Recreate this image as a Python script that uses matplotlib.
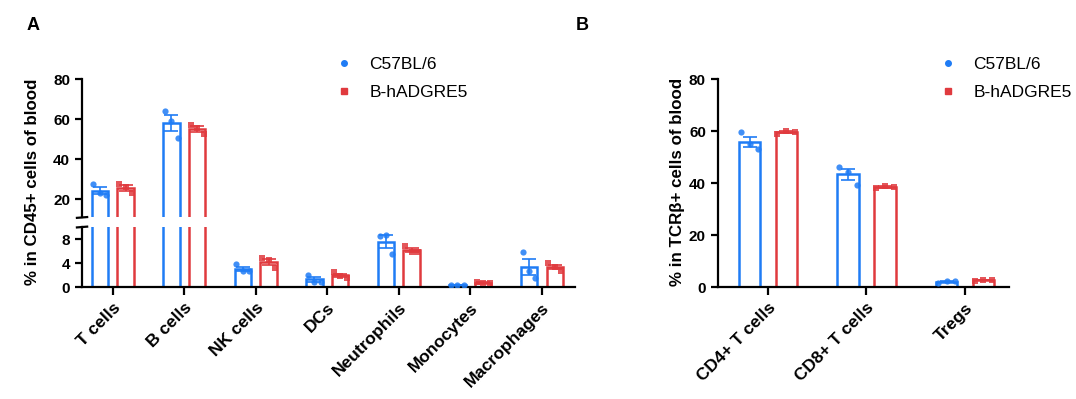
import numpy as np
import matplotlib.pyplot as plt
from matplotlib.lines import Line2D

plt.rcParams['font.family'] = ['Liberation Sans', 'DejaVu Sans']

BLUE = '#1f7cf5'
RED = '#e03a3e'

# Panel A data (three mice per group)
cells_a = ['T cells', 'B cells', 'NK cells', 'DCs', 'Neutrophils', 'Monocytes', 'Macrophages']
c57_a = [[27.5, 23.0, 22.0],
         [64.0, 59.0, 50.5],
         [3.8, 2.6, 2.6],
         [2.0, 0.9, 0.9],
         [8.6, 8.7, 5.5],
         [0.3, 0.3, 0.3],
         [5.8, 2.7, 1.5]]
hadgre5_a = [[27.5, 26.0, 23.0],
             [57.0, 55.6, 52.5],
             [4.8, 4.5, 3.2],
             [2.5, 1.8, 1.5],
             [6.9, 5.9, 5.9],
             [0.9, 0.6, 0.6],
             [4.0, 3.4, 2.7]]

# Panel B data
cells_b = ['CD4+ T cells', 'CD8+ T cells', 'Tregs']
c57_b = [[59.7, 54.9, 53.0],
         [46.3, 44.4, 39.2],
         [1.5, 2.3, 2.2]]
hadgre5_b = [[59.0, 60.0, 59.8],
             [38.0, 39.0, 38.6],
             [2.5, 2.8, 2.6]]

groups = ['C57BL/6', 'B-hADGRE5']

fig = plt.figure(figsize=(10.76, 3.99), dpi=100)

ax_top = fig.add_axes([0.0762, 0.456, 0.458, 0.346])
ax_bot = fig.add_axes([0.0762, 0.2807, 0.458, 0.150])
ax_b = fig.add_axes([0.667, 0.2807, 0.271, 0.521])

jit = np.array([-0.09, 0.0, 0.09])


def draw_group(ax, data, offset, color, marker, width):
    data = np.array(data)
    x = np.arange(len(data)) + offset
    means = data.mean(axis=1)
    sem = data.std(axis=1, ddof=1) / np.sqrt(data.shape[1])
    ax.bar(x, means, width=width, facecolor='white', edgecolor=color, linewidth=1.8, zorder=2)
    ax.errorbar(x, means, yerr=sem, fmt='none', ecolor=color, elinewidth=1.2,
                capsize=5, capthick=1.2, zorder=3)
    for i, row in enumerate(data):
        ax.scatter(x[i] + jit, row, s=20, color=color, marker=marker, alpha=0.85,
                   linewidths=0, zorder=4)


def style(ax):
    for s in ['top', 'right']:
        ax.spines[s].set_visible(False)
    for s in ['left', 'bottom']:
        ax.spines[s].set_linewidth(1.6)
    ax.tick_params(width=1.6, length=5, labelsize=11)
    for lab in ax.get_yticklabels():
        lab.set_fontweight('bold')


for ax in (ax_top, ax_bot):
    draw_group(ax, c57_a, -0.18, BLUE, 'o', 0.23)
    draw_group(ax, hadgre5_a, 0.18, RED, 's', 0.23)
    ax.set_xlim(-0.43, 6.46)
    style(ax)

ax_top.set_ylim(11, 80)
ax_top.set_yticks([20, 40, 60, 80])
ax_top.spines['bottom'].set_visible(False)
ax_top.tick_params(axis='x', bottom=False, labelbottom=False)

ax_bot.set_ylim(0, 10)
ax_bot.set_yticks([0, 4, 8])
ax_bot.set_xticks(range(len(cells_a)))
ax_bot.set_xticklabels(cells_a, rotation=45, ha='right', va='top',
                       rotation_mode='anchor', fontweight='bold', fontsize=12.5)
ax_bot.tick_params(axis='x', length=6)

# break marks on the y axis
kw = dict(color='black', lw=1.6, clip_on=False, transform=fig.transFigure)
fig.add_artist(Line2D([0.0715, 0.0810], [0.454, 0.456], **kw))
fig.add_artist(Line2D([0.0715, 0.0810], [0.430, 0.432], **kw))

fig.text(0.030, 0.545, '% in CD45+ cells of blood', rotation=90, ha='center', va='center',
         fontsize=12.2, fontweight='bold')

draw_group(ax_b, c57_b, -0.187, BLUE, 'o', 0.22)
draw_group(ax_b, hadgre5_b, 0.187, RED, 's', 0.22)
ax_b.set_xlim(-0.51, 2.45)
ax_b.set_ylim(0, 80)
ax_b.set_yticks([0, 20, 40, 60, 80])
style(ax_b)
ax_b.set_xticks(range(len(cells_b)))
ax_b.set_xticklabels(cells_b, rotation=45, ha='right', va='top',
                     rotation_mode='anchor', fontweight='bold', fontsize=12.5)
ax_b.tick_params(axis='x', length=6)
fig.text(0.630, 0.545, '% in TCRβ+ cells of blood', rotation=90, ha='center', va='center',
         fontsize=12.2, fontweight='bold')

handles = [Line2D([], [], ls='none', marker='o', color=BLUE, markersize=4),
           Line2D([], [], ls='none', marker='s', color=RED, markersize=4)]
leg_kw = dict(loc='upper left', frameon=False, fontsize=12.5, handlelength=1.0,
              handletextpad=0.95, labelspacing=0.75, borderaxespad=0, borderpad=0)
fig.legend(handles, groups, bbox_to_anchor=(0.312, 0.858), **leg_kw)
fig.legend(handles, groups, bbox_to_anchor=(0.873, 0.858), **leg_kw)

fig.text(0.031, 0.935, 'A', fontsize=13, fontweight='bold', ha='center', va='center')
fig.text(0.541, 0.935, 'B', fontsize=13, fontweight='bold', ha='center', va='center')

fig.savefig('out.png', dpi=100)
